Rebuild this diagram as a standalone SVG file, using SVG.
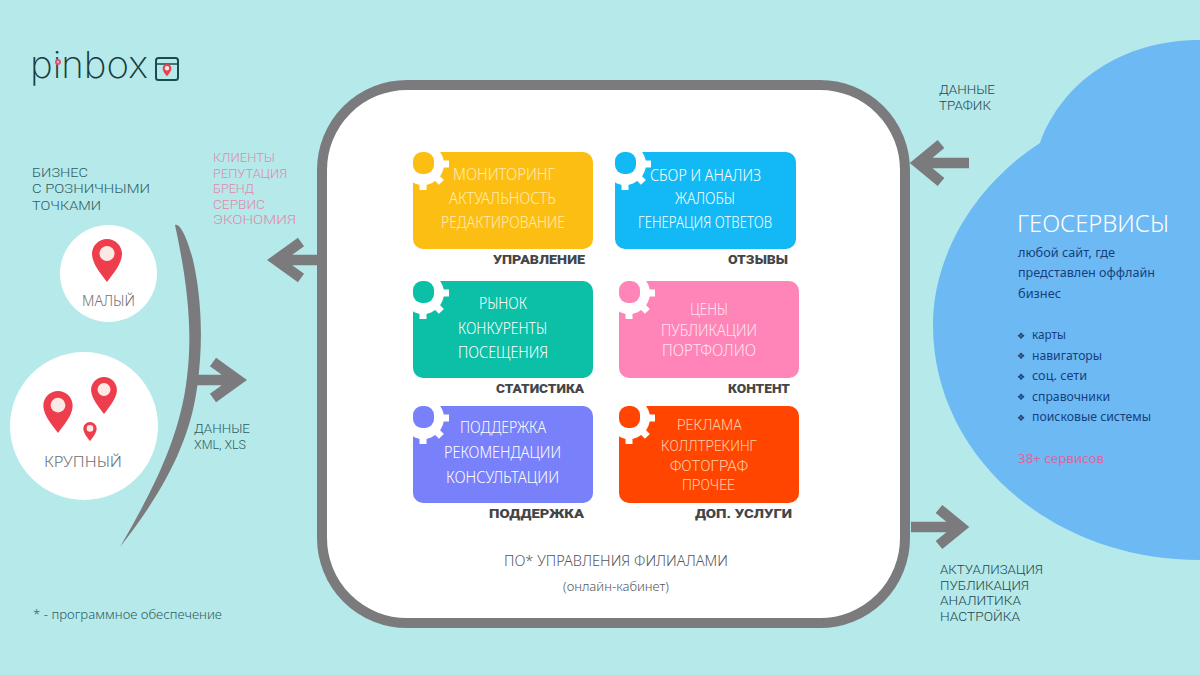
<svg xmlns="http://www.w3.org/2000/svg" xmlns:xlink="http://www.w3.org/1999/xlink" width="1200" height="675" viewBox="0 0 1200 675">
<style>
text{font-family:"Noto Sans","Open Sans","Liberation Sans",sans-serif;font-weight:300;font-size:15px}
.w{fill:#fff;font-size:15.5px}
.y{fill:#ffedb0}
.o{fill:#ffd0a8;font-family:"Roboto","Noto Sans",sans-serif}
.k{fill:#ffe3f0}
.b{font-family:"Roboto","Noto Sans",sans-serif;font-weight:900;font-size:13.5px;fill:#454548}
.dk,.dr,.pk{font-family:"Roboto","Noto Sans",sans-serif;font-size:13.2px}
.dk{fill:#2f5d63}
.dr{fill:#24474d}
.pk{fill:#e08aac}
.s{font-size:13px;fill:#153f7c;font-weight:400}
.bu{font-family:"DejaVu Sans",sans-serif;font-size:9px;fill:#153f7c;font-weight:400}
.g{fill:#707073}
.conn{fill:none;stroke:#7b7b7e;stroke-width:10.5;stroke-linejoin:miter;stroke-miterlimit:6}
</style>
<defs>
<symbol id="pin" viewBox="0 0 30 43" overflow="visible">
<path fill="#ee3d4c" d="M15 0C23.3 0 30 6.700 30 15C30 25 20 36 15 43C10 36 0 25 0 15C0 6.700 6.700 0 15 0Z"/>
<circle cx="15" cy="14.500" r="7.500" fill="#fbe9e6"/>
</symbol>
<g id="gear">
<circle cx="10" cy="12" r="21" fill="#fff"/>
<path stroke="#fff" stroke-width="7" d="M10 -14V38M-16 12H36M-8.400 -6.400L28.400 30.400M28.400 -6.400L-8.400 30.400"/>
</g>
</defs>
<rect width="1200" height="675" fill="#b6e9ea"/>
<g id="logo">
<text x="30" y="78" style="font-size:37px;font-family:'Inter','Noto Sans',sans-serif;font-weight:200;fill:#163c40" textLength="118" lengthAdjust="spacingAndGlyphs">pinbox</text>
<circle cx="58" cy="62" r="3" fill="#e0567a"/>
<circle cx="58" cy="62" r="1" fill="#f6c8d2"/>
<rect x="156" y="58" width="22" height="22" rx="2.500" fill="none" stroke="#1d4a4e" stroke-width="2"/>
<path d="M156 64H178" stroke="#1d4a4e" stroke-width="1.500"/>
<use href="#pin" xlink:href="#pin" x="162.500" y="64" width="9" height="12.500"/>
</g>
<g id="geoservices">
<path fill="#6db9f3" d="M1200 40C1122 40 1062 82 1040 143C975 185 933 255 933 325C933 455 1050 560 1200 560Z"/>
<text x="1017" y="232" style="font-size:24px;fill:#fff" textLength="152" lengthAdjust="spacingAndGlyphs">ГЕОСЕРВИСЫ</text>
<text class="s" x="1018" y="257" textLength="97" lengthAdjust="spacingAndGlyphs">любой сайт, где</text>
<text class="s" x="1018" y="277" textLength="137" lengthAdjust="spacingAndGlyphs">представлен оффлайн</text>
<text class="s" x="1018" y="298" textLength="43" lengthAdjust="spacingAndGlyphs">бизнес</text>
<text class="bu" x="1017" y="339">❖</text>
<text class="bu" x="1017" y="359">❖</text>
<text class="bu" x="1017" y="380">❖</text>
<text class="bu" x="1017" y="400">❖</text>
<text class="bu" x="1017" y="421">❖</text>
<text class="s" x="1032" y="339" textLength="34" lengthAdjust="spacingAndGlyphs">карты</text>
<text class="s" x="1032" y="360" textLength="70" lengthAdjust="spacingAndGlyphs">навигаторы</text>
<text class="s" x="1032" y="380" textLength="55" lengthAdjust="spacingAndGlyphs">соц. сети</text>
<text class="s" x="1032" y="401" textLength="78" lengthAdjust="spacingAndGlyphs">справочники</text>
<text class="s" x="1032" y="421" textLength="119" lengthAdjust="spacingAndGlyphs">поисковые системы</text>
<text x="1018" y="463" style="font-size:13px;fill:#d8689f;font-weight:400" textLength="86" lengthAdjust="spacingAndGlyphs">38+ сервисов</text>
</g>
<g id="connectors">
<path fill="#7b7b7e" d="M175 225C180 222 188 240 193 260C201 295 204 340 197 388C190 440 165 490 120 547C150 495 180 440 187 377C193 330 187 280 175 225Z"/>
<path class="conn" d="M195 380H236M213 362L238 380L213 398"/>
<path class="conn" d="M320 260H280M301 242L276 260L301 278"/>
<path class="conn" d="M969 163H922M941 144L918 163L941 182"/>
<path class="conn" d="M911 527H955M939 509L961 527L939 545"/>
</g>
<g id="platform">
<rect x="322" y="85" width="583" height="538" rx="85" fill="#fff" stroke="#7b7b7e" stroke-width="10"/>
<text x="504" y="566" style="fill:#55585a" textLength="224" lengthAdjust="spacingAndGlyphs">ПО* УПРАВЛЕНИЯ ФИЛИАЛАМИ</text>
<text x="563" y="591" style="font-size:13px;fill:#55585a" textLength="106" lengthAdjust="spacingAndGlyphs">(онлайн-кабинет)</text>
</g>
<g id="card-management">
<rect x="413" y="152" width="180" height="97" rx="10" fill="#fdbe14"/>
<use href="#gear" xlink:href="#gear" x="413" y="152"/><rect x="413" y="152" width="21" height="22" rx="9" fill="#fdbe14"/>
<text class="w y" x="453" y="180" textLength="102" lengthAdjust="spacingAndGlyphs">МОНИТОРИНГ</text>
<text class="w y" x="449" y="204" textLength="107" lengthAdjust="spacingAndGlyphs">АКТУАЛЬНОСТЬ</text>
<text class="w y" x="441" y="228" textLength="124" lengthAdjust="spacingAndGlyphs">РЕДАКТИРОВАНИЕ</text>
<text class="b" x="493" y="264" textLength="92" lengthAdjust="spacingAndGlyphs">УПРАВЛЕНИЕ</text>
</g>
<g id="card-reviews">
<rect x="615" y="152" width="181" height="97" rx="10" fill="#12b9f5"/>
<use href="#gear" xlink:href="#gear" x="615" y="152"/><rect x="615" y="152" width="21" height="22" rx="9" fill="#12b9f5"/>
<text class="w" x="650" y="181" textLength="111" lengthAdjust="spacingAndGlyphs">СБОР И АНАЛИЗ</text>
<text class="w" x="675" y="204" textLength="60" lengthAdjust="spacingAndGlyphs">ЖАЛОБЫ</text>
<text class="w" x="638" y="228" textLength="134" lengthAdjust="spacingAndGlyphs">ГЕНЕРАЦИЯ ОТВЕТОВ</text>
<text class="b" x="728" y="264" textLength="60" lengthAdjust="spacingAndGlyphs">ОТЗЫВЫ</text>
</g>
<g id="card-statistics">
<rect x="413" y="281" width="180" height="97" rx="10" fill="#0cc0a8"/>
<use href="#gear" xlink:href="#gear" x="413" y="281"/><rect x="413" y="281" width="21" height="22" rx="9" fill="#0cc0a8"/>
<text class="w" x="479" y="309" textLength="48" lengthAdjust="spacingAndGlyphs">РЫНОК</text>
<text class="w" x="458" y="334" textLength="89" lengthAdjust="spacingAndGlyphs">КОНКУРЕНТЫ</text>
<text class="w" x="458" y="358" textLength="90" lengthAdjust="spacingAndGlyphs">ПОСЕЩЕНИЯ</text>
<text class="b" x="496" y="393" textLength="88" lengthAdjust="spacingAndGlyphs">СТАТИСТИКА</text>
</g>
<g id="card-content">
<rect x="619" y="281" width="180" height="97" rx="10" fill="#ff85b8"/>
<use href="#gear" xlink:href="#gear" x="619" y="281"/><rect x="619" y="281" width="21" height="22" rx="9" fill="#ff85b8"/>
<text class="w k" x="690" y="315" textLength="38" lengthAdjust="spacingAndGlyphs">ЦЕНЫ</text>
<text class="w k" x="661" y="336" textLength="96" lengthAdjust="spacingAndGlyphs">ПУБЛИКАЦИИ</text>
<text class="w k" x="662" y="356" textLength="94" lengthAdjust="spacingAndGlyphs">ПОРТФОЛИО</text>
<text class="b" x="728" y="393" textLength="62" lengthAdjust="spacingAndGlyphs">КОНТЕНТ</text>
</g>
<g id="card-support">
<rect x="413" y="406" width="180" height="97" rx="10" fill="#7880fa"/>
<use href="#gear" xlink:href="#gear" x="413" y="406"/><rect x="413" y="406" width="21" height="22" rx="9" fill="#7880fa"/>
<text class="w" x="460" y="433" textLength="86" lengthAdjust="spacingAndGlyphs">ПОДДЕРЖКА</text>
<text class="w" x="444" y="458" textLength="117" lengthAdjust="spacingAndGlyphs">РЕКОМЕНДАЦИИ</text>
<text class="w" x="446" y="483" textLength="113" lengthAdjust="spacingAndGlyphs">КОНСУЛЬТАЦИИ</text>
<text class="b" x="489" y="518" textLength="95" lengthAdjust="spacingAndGlyphs">ПОДДЕРЖКА</text>
</g>
<g id="card-extra">
<rect x="619" y="406" width="180" height="97" rx="10" fill="#ff4500"/>
<use href="#gear" xlink:href="#gear" x="619" y="406"/><rect x="619" y="406" width="21" height="22" rx="9" fill="#ff4500"/>
<text class="w o" x="677" y="430" textLength="65" lengthAdjust="spacingAndGlyphs">РЕКЛАМА</text>
<text class="w o" x="661" y="451" textLength="96" lengthAdjust="spacingAndGlyphs">КОЛЛТРЕКИНГ</text>
<text class="w o" x="670" y="471" textLength="78" lengthAdjust="spacingAndGlyphs">ФОТОГРАФ</text>
<text class="w o" x="682" y="490" textLength="53" lengthAdjust="spacingAndGlyphs">ПРОЧЕЕ</text>
<text class="b" x="695" y="518" textLength="97" lengthAdjust="spacingAndGlyphs">ДОП. УСЛУГИ</text>
</g>
<g id="business">
<text class="dk" x="32" y="177" textLength="56" lengthAdjust="spacingAndGlyphs">БИЗНЕС</text>
<text class="dk" x="32" y="193" textLength="118" lengthAdjust="spacingAndGlyphs">С РОЗНИЧНЫМИ</text>
<text class="dk" x="32" y="210" textLength="69" lengthAdjust="spacingAndGlyphs">ТОЧКАМИ</text>
</g>
<g id="benefits">
<text class="pk" x="213" y="162" textLength="62" lengthAdjust="spacingAndGlyphs">КЛИЕНТЫ</text>
<text class="pk" x="213" y="177.500" textLength="74" lengthAdjust="spacingAndGlyphs">РЕПУТАЦИЯ</text>
<text class="pk" x="213" y="193" textLength="41" lengthAdjust="spacingAndGlyphs">БРЕНД</text>
<text class="pk" x="213" y="208.500" textLength="52" lengthAdjust="spacingAndGlyphs">СЕРВИС</text>
<text class="pk" x="213" y="224" textLength="83" lengthAdjust="spacingAndGlyphs">ЭКОНОМИЯ</text>
</g>
<g id="small-business">
<circle cx="108.500" cy="273.500" r="48.500" fill="#fff"/>
<use href="#pin" xlink:href="#pin" x="92" y="239" width="30" height="43"/>
<text class="g" x="82" y="306" textLength="53" lengthAdjust="spacingAndGlyphs">МАЛЫЙ</text>
</g>
<g id="large-business">
<circle cx="84" cy="426" r="74" fill="#fff"/>
<use href="#pin" xlink:href="#pin" x="43" y="391" width="30" height="42"/>
<use href="#pin" xlink:href="#pin" x="90.500" y="377" width="27" height="37"/>
<use href="#pin" xlink:href="#pin" x="83" y="422" width="14" height="19"/>
<text class="g" x="44" y="467" textLength="78" lengthAdjust="spacingAndGlyphs">КРУПНЫЙ</text>
</g>
<g id="labels">
<text class="dk" x="194" y="433" textLength="56" lengthAdjust="spacingAndGlyphs">ДАННЫЕ</text>
<text class="dk" x="194" y="448.500" textLength="52" lengthAdjust="spacingAndGlyphs">XML, XLS</text>
<text class="dr" x="939" y="94" textLength="56" lengthAdjust="spacingAndGlyphs">ДАННЫЕ</text>
<text class="dr" x="939" y="109.500" textLength="52" lengthAdjust="spacingAndGlyphs">ТРАФИК</text>
<text class="dr" x="940" y="574" textLength="103" lengthAdjust="spacingAndGlyphs">АКТУАЛИЗАЦИЯ</text>
<text class="dr" x="940" y="589.500" textLength="89" lengthAdjust="spacingAndGlyphs">ПУБЛИКАЦИЯ</text>
<text class="dr" x="940" y="605" textLength="81" lengthAdjust="spacingAndGlyphs">АНАЛИТИКА</text>
<text class="dr" x="940" y="620.500" textLength="80" lengthAdjust="spacingAndGlyphs">НАСТРОЙКА</text>
<text x="33" y="619" style="font-size:13px;fill:#2f5d63" textLength="189" lengthAdjust="spacingAndGlyphs">* - программное обеспечение</text>
</g>
</svg>
